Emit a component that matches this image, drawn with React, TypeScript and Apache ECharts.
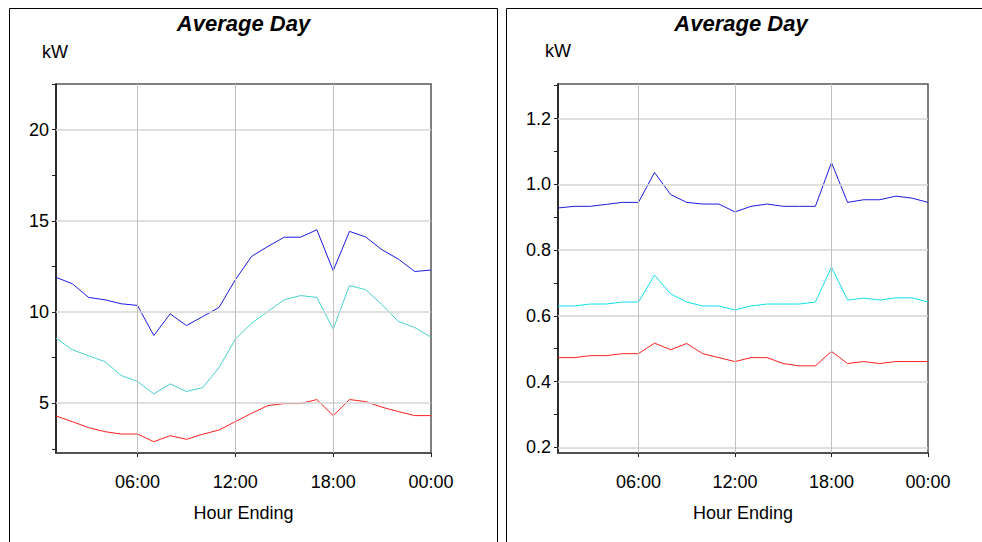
import React, { useEffect, useRef } from 'react';
import * as echarts from 'echarts';

const hours = [1, 2, 3, 4, 5, 6, 7, 8, 9, 10, 11, 12, 13, 14, 15, 16, 17, 18, 19, 20, 21, 22, 23, 24];

const leftBlue = [11.9, 11.55, 10.8, 10.67, 10.45, 10.36, 8.71, 9.9, 9.26, 9.75, 10.25, 11.77, 13.05, 13.6, 14.1, 14.1, 14.51, 12.26, 14.42, 14.11, 13.41, 12.9, 12.22, 12.3];
const leftCyan = [8.57, 7.93, 7.6, 7.28, 6.52, 6.19, 5.51, 6.06, 5.64, 5.86, 6.95, 8.51, 9.39, 10.03, 10.67, 10.9, 10.8, 9.06, 11.45, 11.22, 10.4, 9.48, 9.15, 8.62];
const leftRed = [4.3, 3.99, 3.66, 3.44, 3.31, 3.31, 2.89, 3.22, 3.02, 3.3, 3.53, 3.99, 4.45, 4.87, 4.98, 4.98, 5.2, 4.32, 5.2, 5.09, 4.78, 4.54, 4.32, 4.32];

const rightBlue = [0.928, 0.933, 0.933, 0.939, 0.945, 0.945, 1.036, 0.969, 0.945, 0.94, 0.94, 0.916, 0.933, 0.94, 0.933, 0.933, 0.933, 1.066, 0.945, 0.953, 0.953, 0.964, 0.958, 0.945];
const rightCyan = [0.63, 0.63, 0.636, 0.636, 0.642, 0.642, 0.724, 0.667, 0.642, 0.63, 0.63, 0.618, 0.63, 0.636, 0.636, 0.636, 0.642, 0.748, 0.648, 0.654, 0.648, 0.655, 0.655, 0.642];
const rightRed = [0.473, 0.473, 0.479, 0.479, 0.485, 0.485, 0.517, 0.497, 0.516, 0.485, 0.473, 0.461, 0.473, 0.473, 0.455, 0.448, 0.448, 0.492, 0.455, 0.461, 0.455, 0.461, 0.461, 0.461];

const xTickValues = [6, 12, 18, 24];
const xGridValues = [6, 12, 18];
const leftYLabels = [5, 10, 15, 20];
const leftYTicks = [2.5, 5, 7.5, 10, 12.5, 15, 17.5, 20, 22.5];
const rightYLabels = [0.2, 0.4, 0.6, 0.8, 1.0, 1.2];
const rightYTicks = [0.2, 0.3, 0.4, 0.5, 0.6, 0.7, 0.8, 0.9, 1.0, 1.1, 1.2, 1.3];

const FONT = '"Liberation Sans", Arial, sans-serif';

function pairs(vals: number[]) {
  return hours.map((h, i) => [h, vals[i]]);
}

export default function App() {
  const ref = useRef<HTMLDivElement>(null);
  useEffect(() => {
    if (!ref.current) return;
    const chart = echarts.init(ref.current, null, { renderer: 'svg' });

    const xAxisBase = (gridIndex: number) => ({
      type: 'value',
      gridIndex,
      min: 1,
      max: 24,
      name: 'Hour Ending',
      nameLocation: 'middle',
      nameGap: 60,
      nameTextStyle: { fontFamily: FONT, fontSize: 18, color: '#000', verticalAlign: 'middle' },
      axisLine: { show: true, lineStyle: { color: '#444', width: 1.5 } },
      axisTick: { show: true, customValues: xTickValues, length: 4, lineStyle: { color: '#222' } },
      axisLabel: {
        customValues: xTickValues,
        fontFamily: FONT,
        fontSize: 18,
        color: '#000',
        margin: 20,
        formatter: (v: number) => String(v % 24).padStart(2, '0') + ':00',
      },
      splitLine: { show: false },
    });

    const yAxisBase = (gridIndex: number, min: number, max: number, labels: number[], ticks: number[], dec: number) => ({
      type: 'value',
      gridIndex,
      min,
      max,
      axisLine: { show: true, lineStyle: { color: '#111', width: 1.5 } },
      axisTick: { show: true, customValues: ticks, length: 4, lineStyle: { color: '#222' } },
      axisLabel: {
        customValues: labels,
        fontFamily: FONT,
        fontSize: 18,
        color: '#000',
        margin: 7,
        formatter: (v: number) => v.toFixed(dec),
      },
      splitLine: { show: false },
    });

    const gridSeries = (idx: number, yVals: number[]) => ({
      type: 'line',
      xAxisIndex: idx,
      yAxisIndex: idx,
      data: [],
      z: 1,
      silent: true,
      markLine: {
        silent: true,
        symbol: 'none',
        label: { show: false },
        animation: false,
        data: [
          ...yVals.map((v) => ({ yAxis: v, lineStyle: { color: '#d4d4d4', width: 1.5, type: 'solid' } })),
          ...xGridValues.map((v) => ({ xAxis: v, lineStyle: { color: '#c0c0c0', width: 1, type: 'solid' } })),
        ],
      },
    });

    const lineSeries = (idx: number, vals: number[], color: string) => ({
      type: 'line',
      xAxisIndex: idx,
      yAxisIndex: idx,
      data: pairs(vals),
      showSymbol: false,
      symbol: 'none',
      z: 3,
      lineStyle: { color, width: 1 },
      itemStyle: { color },
    });

    const titleStyle = { text: 'Average Day', align: 'center', verticalAlign: 'middle', fontFamily: FONT, fontSize: 22, fontWeight: 'bold', fontStyle: 'italic', fill: '#000' };

    const option: any = {
      animation: false,
      backgroundColor: '#fff',
      grid: [
        { left: 56, top: 84, width: 375, height: 369, show: true, borderColor: '#555', borderWidth: 1.5, backgroundColor: '#fff' },
        { left: 558, top: 84, width: 370, height: 369, show: true, borderColor: '#555', borderWidth: 1.5, backgroundColor: '#fff' },
      ],
      xAxis: [xAxisBase(0), xAxisBase(1)],
      yAxis: [
        yAxisBase(0, 2.27, 22.5, leftYLabels, leftYTicks, 0),
        yAxisBase(1, 0.183, 1.305, rightYLabels, rightYTicks, 1),
      ],
      series: [
        gridSeries(0, leftYLabels),
        gridSeries(1, rightYLabels),
        lineSeries(0, leftRed, '#ff2020'),
        lineSeries(0, leftCyan, '#48d1cc'),
        lineSeries(0, leftBlue, '#1c1ce0'),
        lineSeries(1, rightRed, '#ff2020'),
        lineSeries(1, rightCyan, '#10e0ec'),
        lineSeries(1, rightBlue, '#1c1ce0'),
      ],
      graphic: [
        { type: 'rect', shape: { x: 9.5, y: 8.5, width: 488, height: 600 }, style: { fill: 'none', stroke: '#000', lineWidth: 1 }, z: 0 },
        { type: 'rect', shape: { x: 506.5, y: 8.5, width: 520, height: 600 }, style: { fill: 'none', stroke: '#000', lineWidth: 1 }, z: 0 },
        { type: 'text', x: 243.5, y: 23, style: { ...titleStyle } },
        { type: 'text', x: 741, y: 23, style: { ...titleStyle } },
        { type: 'text', x: 42, y: 51.5, style: { text: 'kW', align: 'left', verticalAlign: 'middle', fontFamily: FONT, fontSize: 18, fill: '#000' } },
        { type: 'text', x: 545, y: 51, style: { text: 'kW', align: 'left', verticalAlign: 'middle', fontFamily: FONT, fontSize: 18, fill: '#000' } },
      ],
    };
    chart.setOption(option);
    return () => chart.dispose();
  }, []);
  return <div ref={ref} style={{ position: 'fixed', left: 0, top: 0, width: 982, height: 542 }} />;
}
